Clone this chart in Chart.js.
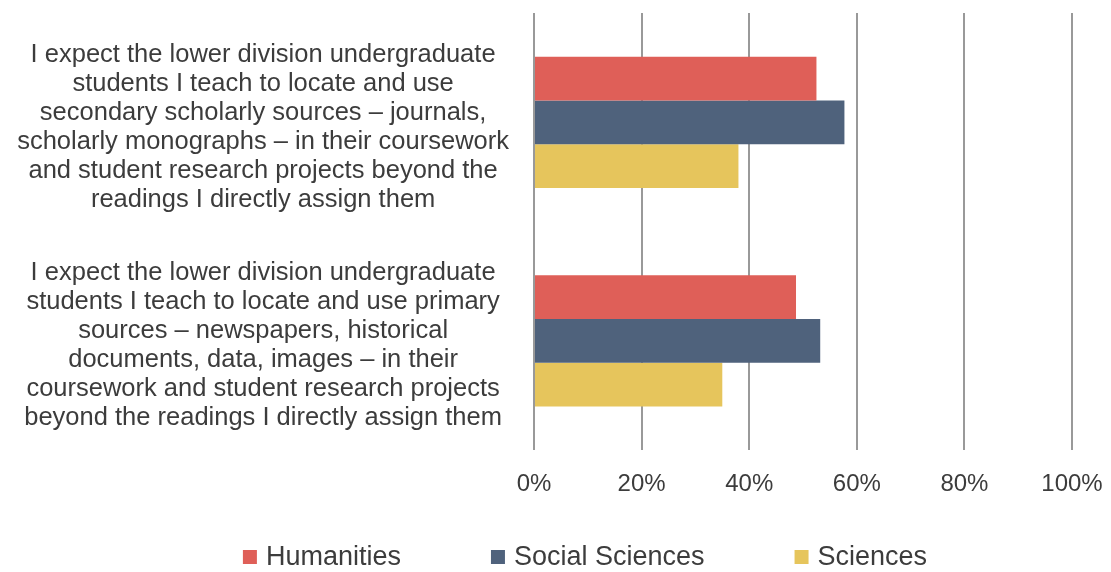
<!DOCTYPE html>
<html><head><meta charset="utf-8">
<script src="https://cdn.jsdelivr.net/npm/chart.js@4/dist/chart.umd.min.js"></script>
<style>html,body{margin:0;padding:0;background:#fff;} #wrap{width:1111px;height:572px;}</style>
</head><body><div id="wrap"><canvas id="c" width="1111" height="572"></canvas></div>
<script>
const categories = [
  ["I expect the lower division undergraduate", "students I teach to locate and use", "secondary scholarly sources – journals,", "scholarly monographs – in their coursework", "and student research projects beyond the", "readings I directly assign them"],
  ["I expect the lower division undergraduate", "students I teach to locate and use primary", "sources – newspapers, historical", "documents, data, images – in their", "coursework and student research projects", "beyond the readings I directly assign them"]
];
const seriesNames = ["Humanities", "Social Sciences", "Sciences"];
const humanities = [52.5, 48.7];
const socialSciences = [57.7, 53.2];
const sciences = [38.0, 35.0];
const xTickValues = [0, 20, 40, 60, 80, 100];

const colors = ["#DF5F58", "#4F627C", "#E6C55C"];
const textColor = "#3C3C3C";
const FONT = '"Liberation Sans", Arial, Helvetica, sans-serif';

const customLegend = {
  id: 'customLegend',
  afterDraw(chart) {
    const ctx = chart.ctx;
    const size = 27, box = 14, boxGap = 9, itemGap = 90, cy = 557, centerX = 585;
    ctx.save();
    ctx.font = size + 'px ' + FONT;
    const items = chart.data.datasets.map(d => ({ label: d.label, color: d.backgroundColor, w: box + boxGap + ctx.measureText(d.label).width }));
    const total = items.reduce((s, it) => s + it.w, 0) + itemGap * (items.length - 1);
    let x = centerX - total / 2;
    ctx.textBaseline = 'middle';
    ctx.textAlign = 'left';
    items.forEach(it => {
      ctx.fillStyle = it.color;
      ctx.fillRect(x, cy - box / 2, box, box);
      ctx.fillStyle = textColor;
      ctx.fillText(it.label, x + box + boxGap, cy + 1);
      x += it.w + itemGap;
    });
    ctx.restore();
  }
};

new Chart(document.getElementById('c'), {
  type: 'bar',
  data: {
    labels: categories,
    datasets: [
      { label: seriesNames[0], data: humanities, backgroundColor: colors[0] },
      { label: seriesNames[1], data: socialSciences, backgroundColor: colors[1] },
      { label: seriesNames[2], data: sciences, backgroundColor: colors[2] }
    ]
  },
  options: {
    indexAxis: 'y',
    responsive: false,
    animation: false,
    devicePixelRatio: 1,
    categoryPercentage: 0.6,
    barPercentage: 1.0,
    layout: { padding: { top: 13, right: 39, left: 0, bottom: 53 } },
    plugins: { legend: { display: false }, tooltip: { enabled: false } },
    scales: {
      x: {
        min: 0, max: 100,
        afterBuildTicks: s => { s.ticks = xTickValues.map(v => ({ value: v })); },
        afterFit: s => { s.paddingLeft = 0; s.paddingRight = 0; },
        ticks: { callback: v => v + '%', font: { family: FONT, size: 24 }, color: textColor, padding: 20, maxRotation: 0, autoSkip: false },
        grid: { color: '#999999', lineWidth: 2, drawTicks: false },
        border: { display: false }
      },
      y: {
        afterFit: s => { s.width = 534; s.paddingTop = 0; s.paddingBottom = 0; },
        ticks: { crossAlign: 'center', padding: 25, labelOffset: 5, autoSkip: false, font: { family: FONT, size: 25.5, lineHeight: 1.137 }, color: textColor },
        grid: { display: false, drawTicks: false },
        border: { display: false }
      }
    }
  },
  plugins: [customLegend]
});
</script>
</body></html>
